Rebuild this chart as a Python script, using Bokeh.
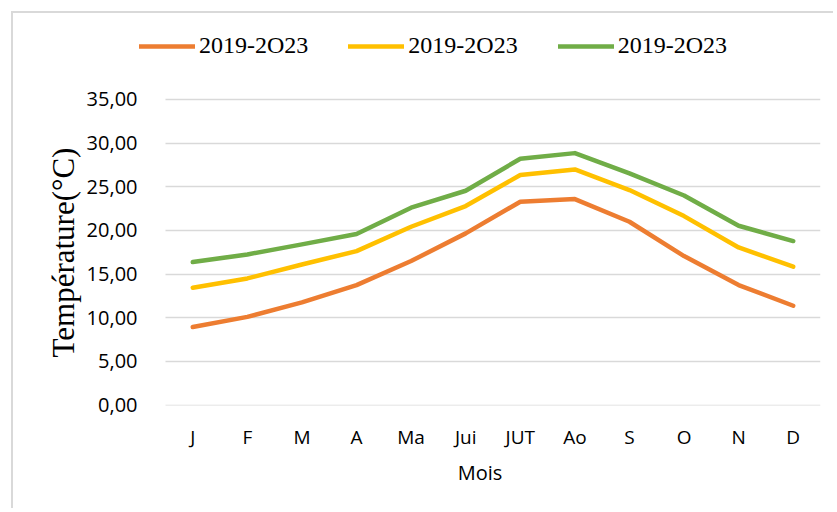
from bokeh.plotting import figure
from bokeh.models import Range1d, Legend, LegendItem, CustomJSTickFormatter, FixedTicker, Title
from bokeh.embed import file_html
from bokeh.resources import INLINE

months = ["J", "F", "M", "A", "Ma", "Jui", "JUT", "Ao", "S", "O", "N", "D"]
series_names = ["2019-2O23", "2019-2O23", "2019-2O23"]
orange_vals = [8.93, 10.1, 11.76, 13.74, 16.49, 19.66, 23.28, 23.59, 20.99, 17.06, 13.74, 11.37]
yellow_vals = [13.44, 14.5, 16.1, 17.63, 20.42, 22.79, 26.34, 26.98, 24.62, 21.64, 18.05, 15.84]
green_vals = [16.37, 17.25, 18.4, 19.58, 22.6, 24.54, 28.2, 28.85, 26.53, 24.0, 20.53, 18.78]
y_ticks = [0, 5, 10, 15, 20, 25, 30, 35]
colors = ["#ED7D31", "#FFC000", "#70AD47"]

# month index -> centre of its category slot
x_pos = [i + 0.5 for i in range(len(months))]
n = len(months)

p = figure(width=822, height=497, output_backend="svg", toolbar_location=None,
           x_range=Range1d(-0.476, n),
           y_range=Range1d(-0.05, 42.89),
           min_border_left=126, min_border_right=15, min_border_top=17, min_border_bottom=105)
p.styles = {"margin-left": "11px", "margin-top": "11px",
            "border-left": "2px solid #d9d9d9", "border-top": "2px solid #d9d9d9"}
p.outline_line_color = None
p.background_fill_color = "white"
p.border_fill_color = "white"

renderers = []
for vals, c in zip([orange_vals, yellow_vals, green_vals], colors):
    r = p.line(x_pos, vals, line_color=c, line_width=4.5, line_cap="round", line_join="round")
    renderers.append(r)

p.xgrid.grid_line_color = None
p.ygrid.grid_line_color = "#d9d9d9"
p.ygrid.grid_line_width = 1.5
p.ygrid.cross_bounds = (0, n)

p.yaxis.ticker = FixedTicker(ticks=y_ticks)
p.yaxis.bounds = (0, max(y_ticks))
p.yaxis.formatter = CustomJSTickFormatter(code="return tick.toFixed(2).replace('.', ',');")
p.xaxis.ticker = FixedTicker(ticks=x_pos)
p.xaxis.major_label_overrides = {x: m for x, m in zip(x_pos, months)}
p.xaxis.bounds = (0, n)
for ax in (p.xaxis[0], p.yaxis[0]):
    ax.axis_line_color = None
    ax.major_tick_line_color = None
    ax.minor_tick_line_color = None
    ax.major_label_text_font = "Open Sans"
    ax.major_label_text_color = "#000000"
    ax.axis_label_text_color = "#000000"
p.yaxis.major_label_text_font_size = "20px"
p.xaxis.major_label_text_font_size = "19px"
p.yaxis.major_label_standoff = -4
p.xaxis.major_label_standoff = 12

ytitle = Title(text="Température(°C)", align="left", offset=48, standoff=5,
               text_font="Liberation Serif", text_font_size="31px",
               text_font_style="normal", text_color="#000000")
p.add_layout(ytitle, "left")

p.xaxis.axis_label = "Mois"
p.xaxis.axis_label_text_font = "Open Sans"
p.xaxis.axis_label_text_font_size = "20px"
p.xaxis.axis_label_text_font_style = "normal"
p.xaxis.axis_label_standoff = 6

legend = Legend(items=[LegendItem(label=s, renderers=[r]) for s, r in zip(series_names, renderers)],
                orientation="horizontal", location=(0, 346),
                glyph_width=56, glyph_height=24, label_height=24, label_standoff=4,
                spacing=40, padding=0, margin=0,
                label_text_font="Liberation Serif", label_text_font_size="24px",
                label_text_color="#000000",
                background_fill_alpha=0, border_line_color=None)
p.add_layout(legend, "center")

open("out.html", "w").write(file_html(p, INLINE))
